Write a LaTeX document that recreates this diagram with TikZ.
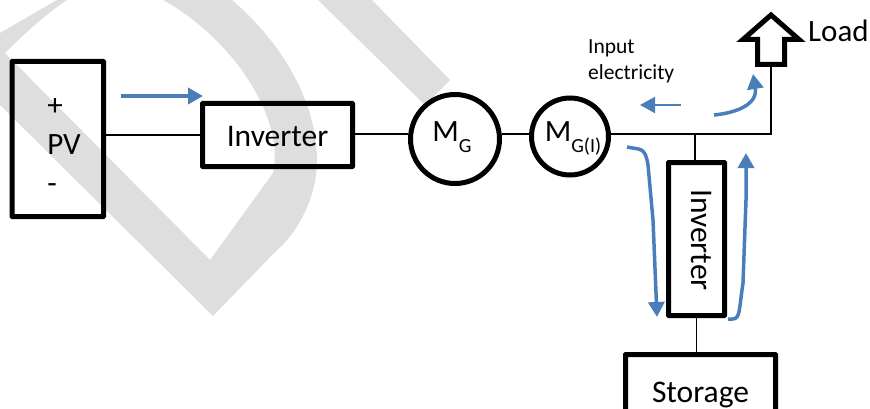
\documentclass[tikz,border=0pt]{standalone}
\usepackage{fontspec}
\setmainfont{Carlito}
\usetikzlibrary{arrows.meta}
\definecolor{markgray}{HTML}{DEDEDE}
\definecolor{flowblue}{HTML}{4A7EBB}
\newcommand{\lowtext}[1]{\raisebox{-11pt}{\fontsize{20}{20}\selectfont #1}}
\newcommand{\droptext}[2]{\raisebox{-#1}[0pt][0pt]{#2}}
\tikzset{
  box/.style={draw=black,line width=5pt,rounded corners=0.5pt,minimum width=#1,inner sep=0pt,font=\fontsize{31.5}{36}\selectfont},
  machine/.style={draw=black,line width=5pt,circle,inner sep=0pt,minimum size=#1,font=\fontsize{31}{36}\selectfont},
  wire/.style={draw=black,line width=1.5pt},
  flow/.style={draw=flowblue,line width=#1,line join=round,-{Triangle[length=15pt,width=16pt,fill=flowblue]}},
  flow/.default=3pt
}
\begin{document}
\begin{tikzpicture}[x=1pt,y=-1pt]
  \clip (0,0) rectangle (870,409);
  % background mark
  \fill[markgray] (0,33) -- (57,0) -- (67,0) .. controls (45,15) and (25,33) .. (5,53) -- (210,260)
    -- (273,173) .. controls (285,120) and (235,40) .. (163,0) -- (232,0)
    .. controls (290,50) and (317,110) .. (317,160) .. controls (317,205) and (290,240) .. (277,250)
    -- (213,316) -- (0,105) -- cycle;
  \fill[markgray] (318,0) -- (372,0) -- (450,80) -- (425,105) -- cycle;
  % blocks
  \node[box=91.5pt,minimum height=155pt] (pv) at (57.75,139) {};
  \node[font=\fontsize{31}{39}\selectfont,align=left,inner sep=0pt] (pvtext) at (64,146) {+\\PV\\-};
  \node[box=150pt,minimum height=63pt] (inv) at (277.5,135) {\droptext{12pt}{Inverter}};
  \node[machine=89pt] (mg) at (455,139) {\hspace{-6pt}\droptext{3pt}{M\lowtext{G}}};
  \node[machine=77pt] (mgi) at (570,136.5) {\hspace{6pt}\droptext{5.5pt}{M\lowtext{G(I)}}};
  \node[box=56pt,minimum height=153pt] (invb) at (696.5,239) {};
  \node[rotate=270,font=\fontsize{31.5}{36}\selectfont,inner sep=0pt] (invbtext) at (701,240) {Inverter};
  \node[box=150pt,minimum height=75pt] (store) at (700.5,392) {\droptext{10pt}{Storage}};
  \draw[line width=5pt] (757.5,64.5) -- (757.5,39.5) -- (743,39.5) -- (771,15) -- (799,39.5)
    -- (784.5,39.5) -- (784.5,64.5) -- cycle;
  \coordinate (load) at (771,64.5);
  \node[anchor=west,inner sep=0pt,font=\fontsize{31}{36}\selectfont] (loadtext) at (808,31) {Load};
  \node[anchor=west,align=left,inner sep=0pt,font=\fontsize{21.5}{26}\selectfont] (input) at (588,61) {Input\\electricity};
  \coordinate (corner) at (771,134);
  \coordinate (tee) at (695,134);
  % wires
  \draw[wire] (pv.east |- 0,135) -- (inv.west |- 0,135);
  \draw[wire] (inv.east |- tee) -- (mg.west |- tee);
  \draw[wire] (mg.east |- tee) -- (mgi.west |- tee);
  \draw[wire] (mgi.east |- tee) -- (corner) -- (load);
  \draw[wire] (tee) -- (tee |- invb.north);
  \draw[wire] (invb.south) -- (store.north -| invb.south);
  % energy flow
  \coordinate (a1) at (121,96); \coordinate (a2) at (203,96);
  \draw[flow=4.5pt] (a1) -- (a2);
  \coordinate (b1) at (681,105); \coordinate (b2) at (640,105);
  \draw[flow=2pt] (b1) -- (b2);
  \coordinate (c1) at (714,115); \coordinate (c2) at (753,74);
  \draw[flow=3.5pt] (c1) .. controls (735,113) and (758,105) .. (c2);
  \coordinate (d1) at (627,147); \coordinate (d2) at (657,317);
  \draw[flow=3.5pt] (d1) .. controls (640,150) and (645,146) .. (648,165) -- (653,220) -- (d2);
  \coordinate (e1) at (728,319); \coordinate (e2) at (746,153);
  \draw[flow=3.5pt] (e1) .. controls (741,320) and (738,316) .. (743,283) -- (746,200) -- (e2);
\end{tikzpicture}
\end{document}
